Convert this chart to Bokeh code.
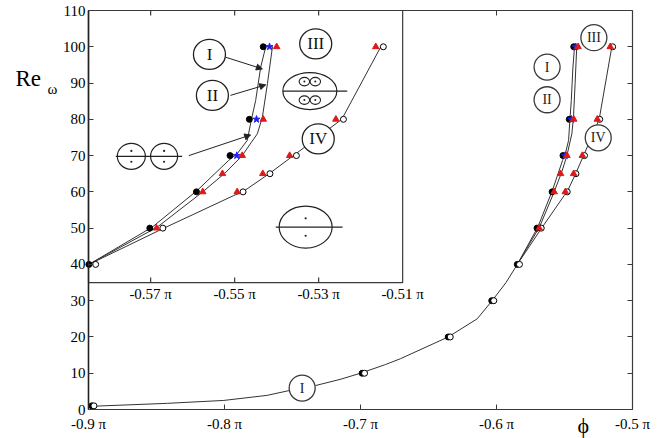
import math
from bokeh.plotting import figure
from bokeh.models import (Range1d, LinearAxis, FixedTicker, CustomJSTickFormatter,
                          Label, Arrow, NormalHead)
from bokeh.core.properties import value
from bokeh.embed import file_html
from bokeh.resources import INLINE

FONT = "Liberation Serif"
AX = "#3a3a3a"
LINE = "#333333"
RED = "#e01818"
BLUE = "#2020f0"

# ---------------- data (phi in units of pi) ----------------
re_I = [1, 10, 20, 30, 40, 50, 60, 70, 80, 100]
phi_I = [-0.8975, -0.6988, -0.6355, -0.6035, -0.5847, -0.5702, -0.5591, -0.5511, -0.5465, -0.5432]

re_II = [70, 80, 100]
phi_II = [-0.5495, -0.5448, -0.5417]

re_III = [50, 60, 65, 70, 80, 100]
phi_III = [-0.5686, -0.5576, -0.5529, -0.5482, -0.5432, -0.5400]

re_IIIb = [60, 65, 70, 80, 100]
phi_IIIb = [-0.5494, -0.5433, -0.5369, -0.5259, -0.5164]

re_IV = [1, 10, 20, 30, 40, 50, 60, 65, 70, 80, 100]
phi_IV = [-0.8960, -0.6970, -0.6340, -0.6020, -0.5831, -0.5671, -0.5480, -0.5416, -0.5353, -0.5241, -0.5146]

# fitted curves
low_phi = [-0.8968, -0.842, -0.8005, -0.7686, -0.7527, -0.7331, -0.7150, -0.7000, -0.6816,
           -0.6706, -0.6355, -0.6142, -0.6032, -0.5930, -0.5847]
low_re = [0.9, 1.7, 2.5, 3.9, 5.2, 6.6, 8.3, 10, 12.4, 14.0, 20, 25, 30, 35, 40]

lineI_phi = [-0.5847, -0.5696, -0.5589, -0.5514, -0.5494, -0.5470, -0.5460, -0.5450, -0.5438, -0.5426]
lineI_re = [40, 50.3, 60.4, 68.7, 70.5, 74.2, 80, 85.2, 94.4, 100]
lineII_phi = [-0.5847, -0.5684, -0.5577, -0.5521, -0.5482, -0.5460, -0.5446, -0.5434, -0.5422, -0.5410]
lineII_re = [40, 50.3, 59.9, 65.4, 70, 73.7, 76, 80.6, 89.8, 100]
lineIV_phi = [-0.5847, -0.5672, -0.5502, -0.5482, -0.5418, -0.5360, -0.5245, -0.5152]
lineIV_re = [40, 49.8, 59, 59.9, 65, 70, 80, 100]

y_ticks = [0, 10, 20, 30, 40, 50, 60, 70, 80, 90, 100, 110]
x_ticks = [-0.9, -0.8, -0.7, -0.6, -0.5]
inset_x_ticks = [-0.57, -0.55, -0.53, -0.51]

# ---------------- geometry ----------------
W, H = 669, 438
X0, X1 = -0.9, -0.5          # main plot box
Y0, Y1 = 0, 110
BOX_L, BOX_R, BOX_T, BOX_B = 88, 632, 10, 409   # pixel edges of the main box
SX = (BOX_R - BOX_L) / (X1 - X0)                # px per unit
SY = (BOX_B - BOX_T) / (Y1 - Y0)
XS = X0 - BOX_L / SX
XE = XS + W / SX
YS = Y0 - (H - BOX_B) / SY
YE = YS + H / SY


def px_x(px):
    return XS + px / SX


def px_y(py):
    return YE - py / SY


IX0, IX1 = -0.5848, -0.51
IY0, IY1 = 35, 110
IXT1 = X0 + (IX1 - IX0) * 4200 / SX


def to_main(phi):
    return X0 + (phi - IX0) * (IXT1 - X0) / (IX1 - IX0)


p = figure(width=W, height=H, x_range=Range1d(XS, XE), y_range=Range1d(YS, YE),
           output_backend="svg", toolbar_location=None,
           x_axis_type=None, y_axis_type=None,
           min_border_left=0, min_border_right=0, min_border_top=0, min_border_bottom=0)
p.outline_line_color = None
p.background_fill_color = "white"


def make_axis(ticks, loc, bounds, labels=True, formatter=None):
    ax = LinearAxis(ticker=FixedTicker(ticks=ticks), fixed_location=loc, bounds=bounds)
    ax.major_tick_in = 5
    ax.major_tick_out = 0
    ax.minor_tick_line_color = None
    ax.axis_line_color = AX
    ax.axis_line_width = 1.2
    ax.major_tick_line_color = AX
    ax.major_label_text_font = FONT
    ax.major_label_text_font_size = "15px"
    ax.major_label_text_color = "black"
    ax.major_label_standoff = 3
    if formatter is not None:
        ax.formatter = formatter
    if not labels:
        ax.formatter = CustomJSTickFormatter(code="return ''")
        ax.major_label_standoff = 0
    return ax


left = make_axis(y_ticks, X0, (Y0, Y1))
left.axis_line_width = 1.6
left.axis_line_color = "#222222"
p.add_layout(left, "left")
bottom = make_axis(x_ticks, Y0, (X0, X1),
                   formatter=CustomJSTickFormatter(code="return tick.toFixed(1) + ' \u03c0'"))
bottom.major_label_standoff = 6
p.add_layout(bottom, "below")
p.add_layout(make_axis(y_ticks, X1, (Y0, Y1), labels=False), "right")
p.add_layout(make_axis([-0.6], Y1, (X0, X1), labels=False), "above")

# ---------------- main curves ----------------
for xs, ys in [(low_phi, low_re), (lineI_phi, lineI_re), (lineII_phi, lineII_re), (lineIV_phi, lineIV_re)]:
    p.line(xs, ys, line_color=LINE, line_width=1)


def draw_markers(g, keep):
    def f(xs, ys):
        pts = [(x, y) for x, y in zip(xs, ys) if keep(y)]
        return [a for a, _ in pts], [b for _, b in pts]
    x, y = f(phi_I, re_I)
    g.scatter(x, y, marker="circle", size=6, fill_color="black", line_color="black")
    x, y = f(phi_IV, re_IV)
    g.scatter(x, y, marker="circle", size=6, fill_color="white", line_color="black", line_width=1)
    x, y = f(phi_II, re_II)
    g.scatter(x, y, marker="star", size=7.5, fill_color=BLUE, line_color=BLUE)
    x, y = f(phi_III, re_III)
    g.scatter(x, y, marker="triangle", size=6.5, fill_color=RED, line_color=RED)
    x, y = f(phi_IIIb, re_IIIb)
    g.scatter(x, y, marker="triangle", size=6.5, fill_color=RED, line_color=RED)


draw_markers(p, lambda y: True)

# main labels (circled roman numerals)
main_lab_x = [-0.7429, -0.5628, -0.5628, -0.5284, -0.5252]
main_lab_y = [5.9, 94.4, 85.4, 102.5, 74.9]
main_lab_t = ["I", "I", "II", "III", "IV"]
p.ellipse(main_lab_x, main_lab_y, width=26, height=26, width_units="screen", height_units="screen",
          fill_color="white", line_color=AX, line_width=1.3)
p.text(main_lab_x, main_lab_y, text=main_lab_t, text_align="center", text_baseline="middle",
       text_font=value(FONT), text_font_size="14px", text_color="#222222")

# ---------------- inset ----------------
ins = p.subplot(x_source=Range1d(IX0, IX1), y_source=Range1d(IY0, IY1),
                x_target=Range1d(X0, IXT1), y_target=Range1d(IY0, IY1))
ins.quad(left=[IX0], right=[IX1], bottom=[IY0], top=[IY1], fill_color="white",
         line_color=AX, line_width=1.2)
ins.ray(x=inset_x_ticks[:-1], y=[IY0] * 3, length=5, angle=math.pi / 2, length_units="screen",
        line_color=AX, line_width=1.2)
ins.ray(x=inset_x_ticks[:-1], y=[IY1] * 3, length=5, angle=-math.pi / 2, length_units="screen",
        line_color=AX, line_width=1.2)
ins.text(inset_x_ticks, [IY0] * 4, text=[f"{t:.2f} \u03c0" for t in inset_x_ticks],
         text_align="center", text_baseline="top", y_offset=3,
         text_font=value(FONT), text_font_size="15px", text_color="black")

for xs, ys in [(lineI_phi, lineI_re), (lineII_phi, lineII_re), (lineIV_phi, lineIV_re)]:
    ins.line(xs, ys, line_color=LINE, line_width=1)
draw_markers(ins, lambda y: y >= 40)

ins_lab_x = [-0.5560, -0.5553, -0.5307, -0.5301]
ins_lab_y = [97.9, 86.6, 100.8, 74.6]
ins_lab_t = ["I", "II", "III", "IV"]
ins.ellipse(ins_lab_x, ins_lab_y, width=32, height=30, width_units="screen", height_units="screen",
            fill_color="white", line_color="#222222", line_width=1.3)
ins.text(ins_lab_x, ins_lab_y, text=ins_lab_t, text_align="center", text_baseline="middle",
         text_font=value(FONT), text_font_size="17px", text_color="#111111")

# icon: two circles
ins.ellipse([-0.5746, -0.5668], [69.8, 69.8], width=[28, 27], height=[26, 26],
            width_units="screen", height_units="screen", fill_color=None, line_color="#222222", line_width=1.2)
ins.segment(x0=[-0.5783], y0=[69.8], x1=[-0.5625], y1=[69.8], line_color="#222222", line_width=1.2)
ins.scatter([-0.5746, -0.5746, -0.5668, -0.5668], [71.3, 68.3, 71.3, 68.3], size=2.2,
            fill_color="#222222", line_color=None)

# icon: ellipse with figure-eights
ins.ellipse([-0.5321], [87.8], width=54, height=37, width_units="screen", height_units="screen",
            fill_color=None, line_color="#222222", line_width=1.2)
ins.segment(x0=[-0.5385], y0=[87.8], x1=[-0.5232], y1=[87.8], line_color="#222222", line_width=1.2)
eight_x = [-0.5334, -0.5308, -0.5334, -0.5308]
eight_y = [90.4, 90.4, 85.3, 85.3]
ins.ellipse(eight_x, eight_y, width=10.5, height=8.5, width_units="screen", height_units="screen",
            fill_color=None, line_color="#222222", line_width=1.1)
ins.scatter(eight_x, eight_y, size=2, fill_color="#222222", line_color=None)

# icon: ellipse with two dots
ins.ellipse([-0.5331], [50.3], width=53, height=42, width_units="screen", height_units="screen",
            fill_color=None, line_color="#222222", line_width=1.2)
ins.segment(x0=[-0.5402], y0=[50.3], x1=[-0.5243], y1=[50.3], line_color="#222222", line_width=1.2)
ins.scatter([-0.5331, -0.5331], [52.7, 47.9], size=2.2, fill_color="#222222", line_color=None)

# arrows
arrows = [((-0.5521, 97.1), (-0.5434, 93.9)),
          ((-0.5510, 86.6), (-0.5426, 89.5)),
          ((-0.5609, 70.0), (-0.5462, 75.7))]
for (xa, ya), (xb, yb) in arrows:
    p.add_layout(Arrow(x_start=to_main(xa), y_start=ya, x_end=to_main(xb), y_end=yb,
                       line_color="#222222", line_width=1,
                       end=NormalHead(size=6, fill_color="#222222", line_color="#222222", line_width=1)))

# ---------------- axis titles ----------------
p.add_layout(Label(x=px_x(15), y=px_y(78), text="Re", text_font=FONT,
                   text_font_size="23px", text_baseline="alphabetic", text_color="black"))
p.add_layout(Label(x=px_x(47), y=px_y(88), text="\u03c9", text_font=FONT,
                   text_font_size="15px", text_baseline="alphabetic", text_color="black"))
p.add_layout(Label(x=px_x(577), y=px_y(425), text="\u03d5", text_font=FONT,
                   text_font_size="22px", text_baseline="alphabetic", text_color="black"))

open("out.html", "w").write(file_html(p, INLINE))
